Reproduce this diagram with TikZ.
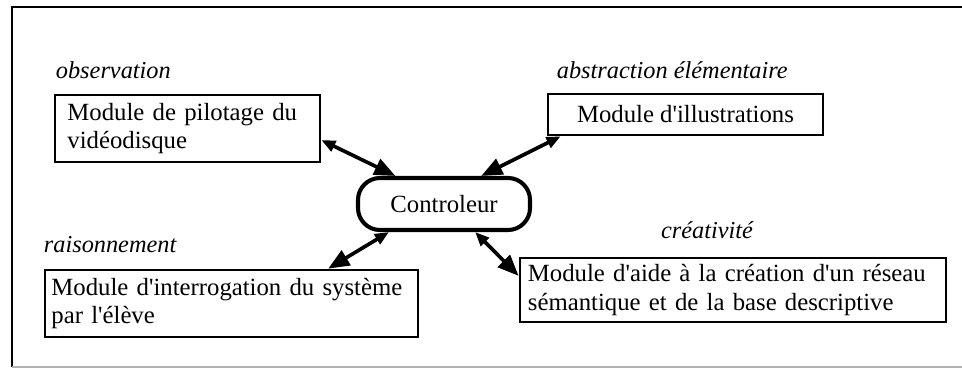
\documentclass[tikz,border=0pt]{standalone}
\usepackage{fontspec}
\setmainfont{Liberation Serif}
\usepackage{tikz}
\usetikzlibrary{positioning, arrows.meta}
\tikzstyle{module} = [rectangle, draw=black, line width=1.9pt, minimum height=1.675cm, inner ysep=0pt, align=left, font=\fontsize{17.6}{20}\selectfont]
\tikzstyle{ctrlbox} = [rectangle, rounded corners=0.55cm, draw=black, line width=2.9pt, minimum width=4.3cm, minimum height=1.3cm, text centered, font=\fontsize{17.6}{20}\selectfont]
\tikzstyle{lbl} = [inner sep=0pt, font=\fontsize{17.3}{20}\selectfont\itshape]
\tikzstyle{arrow} = [{Triangle[length=10pt,width=8pt]}-{Triangle[length=15pt,width=12pt]}, line width=2.6pt]
\begin{document}
\begin{tikzpicture}[x=0.025cm, y=-0.025cm]
		\useasboundingbox (0,0) rectangle (962,369);
		%cadre
		\draw[line width=1.6pt] (962,7) -- (12,7) -- (12,367);
		\draw[gray!60, line width=0.8pt] (12,367) -- (962,367);
		%noeuds
		\node[ctrlbox](ctrl) at (444,204){Controleur};
		\node[module, minimum width=6.625cm, text width=6.0cm, inner xsep=0.3cm](pilot) at (187.5,128.5){Module de pilotage du\\vidéodisque};
		\node[module, minimum width=6.875cm, minimum height=1.025cm, align=center](illus) at (685.5,114.5){Module d\textquotesingle illustrations};
		\node[module, minimum width=9.325cm, text width=9.0cm, inner xsep=0.16cm](interro) at (231.5,303.5){Module d\textquotesingle interrogation du système\\par l\textquotesingle élève};
		\node[module, minimum width=10.65cm, minimum height=1.6cm, text width=10.25cm, inner xsep=0.2cm](aide) at (733,290){Module d\textquotesingle aide à la création d\textquotesingle un réseau\\sémantique et de la base descriptive};
		%etiquettes
		\node[lbl, anchor=base west](obs) at ([xshift=0.05cm, yshift=0.37cm]pilot.north west){observation};
		\node[lbl, anchor=base west](abstr) at ([xshift=0.25cm, yshift=0.35cm]illus.north west){abstraction élémentaire};
		\node[lbl, anchor=base west](rais) at ([yshift=0.4cm]interro.north west){raisonnement};
		\node[lbl, anchor=base](crea) at ([xshift=-0.65cm, yshift=0.45cm]aide.north){créativité};
		%connexions
		\draw [arrow] ([yshift=-0.29cm]pilot.east) -- (ctrl.150);
		\draw [arrow] ([xshift=0.35cm]illus.south west) -- (ctrl.37);
		\draw [arrow] (ctrl.207) -- ([xshift=-2.28cm]interro.north east);
		\draw [arrow] (ctrl.318) -- ([yshift=-0.48cm]aide.north west);

	\end{tikzpicture}
\end{document}
